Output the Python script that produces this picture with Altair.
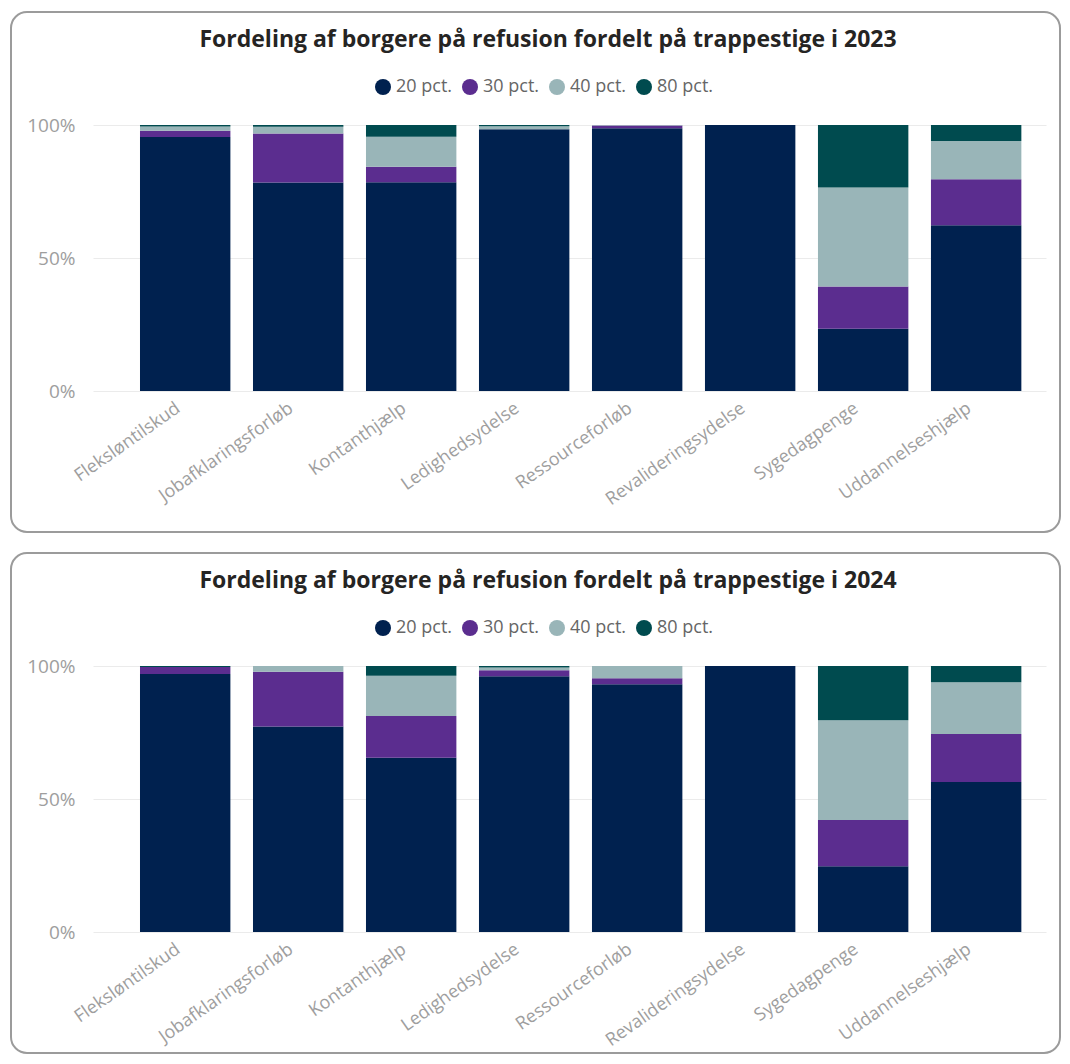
import altair as alt
import pandas as pd

categories = ["Fleksløntilskud", "Jobafklaringsforløb", "Kontanthjælp", "Ledighedsydelse",
              "Ressourceforløb", "Revalideringsydelse", "Sygedagpenge", "Uddannelseshjælp"]
levels = ["20 pct.", "30 pct.", "40 pct.", "80 pct."]
colors = ["#00214F", "#5B2D8F", "#99B5B8", "#004B4F"]

# shares (%) per category, 2023
p20_2023 = [95.9, 78.6, 78.6, 98.4, 98.8, 100.0, 23.4, 62.4]
p30_2023 = [2.3, 18.5, 5.8, 0.0, 1.0, 0.0, 15.9, 17.3]
p40_2023 = [1.6, 2.5, 11.3, 1.1, 0.2, 0.0, 37.2, 14.4]
p80_2023 = [0.6, 0.7, 4.4, 0.5, 0.0, 0.0, 23.5, 6.0]

# shares (%) per category, 2024
p20_2024 = [97.0, 77.3, 65.5, 96.1, 93.1, 100.0, 24.7, 56.4]
p30_2024 = [2.6, 20.5, 15.7, 2.3, 2.3, 0.0, 17.4, 18.0]
p40_2024 = [0.0, 2.2, 15.1, 1.0, 4.6, 0.0, 37.5, 19.5]
p80_2024 = [0.4, 0.0, 3.7, 0.6, 0.0, 0.0, 20.4, 6.1]

title_2023 = "Fordeling af borgere på refusion fordelt på trappestige i 2023"
title_2024 = "Fordeling af borgere på refusion fordelt på trappestige i 2024"

FONT = "Open Sans"
W, H = 953, 266


def make_df(series):
    rows = []
    for li, (lvl, vals) in enumerate(zip(levels, series)):
        for c, v in zip(categories, vals):
            rows.append({"kategori": c, "niveau": lvl, "orden": li, "andel": v})
    return pd.DataFrame(rows)


def panel(df, title, box_bottom):
    border = alt.Chart(pd.DataFrame({"d": [0]})).mark_rect(
        filled=False, stroke="#9B9B9B", strokeWidth=2, cornerRadius=16
    ).encode(x=alt.value(-82), x2=alt.value(967), y=alt.value(-113), y2=alt.value(box_bottom))

    ttl = alt.Chart(pd.DataFrame({"t": [title]})).mark_text(
        font=FONT, fontSize=23, fontWeight="bold", color="#252423",
        align="center", baseline="middle"
    ).encode(x=alt.value(455), y=alt.value(-85), text="t:N")

    bars = alt.Chart(df).mark_bar().encode(
        x=alt.X("kategori:N", sort=categories,
                scale=alt.Scale(paddingInner=0.2, paddingOuter=0.317, align=0.656),
                axis=alt.Axis(title=None, labelAngle=-35, labelColor="#9E9E9E", labelFont=FONT,
                              labelFontSize=18, domain=False, ticks=False, labelPadding=8,
                              labelOffset=-12, grid=False)),
        y=alt.Y("andel:Q", stack="normalize", scale=alt.Scale(domain=[0, 1]),
                axis=alt.Axis(title=None, values=[0, 0.5, 1], format=".0%", labelColor="#9E9E9E",
                              labelFont=FONT, labelFontSize=19, gridColor="#EBEBEB", domain=False,
                              ticks=False, labelPadding=18)),
        color=alt.Color("niveau:N", scale=alt.Scale(domain=levels, range=colors),
                        legend=alt.Legend(title=None, orient="none", legendX=281, legendY=-47,
                                          direction="horizontal", symbolType="circle", symbolSize=256,
                                          symbolOpacity=1, symbolStrokeWidth=0, labelFont=FONT,
                                          labelFontSize=18, labelColor="#666666", columnPadding=8,
                                          labelOffset=4)),
        order=alt.Order("orden:Q", sort="ascending"),
    )
    return alt.layer(border, ttl, bars).properties(width=W, height=H)


p1 = panel(make_df([p20_2023, p30_2023, p40_2023, p80_2023]), title_2023, 407)
p2 = panel(make_df([p20_2024, p30_2024, p40_2024, p80_2024]), title_2024, 387)

chart = alt.vconcat(p1, p2, spacing=19).resolve_scale(color="independent").resolve_legend(
    color="independent"
).properties(
    padding={"left": 2, "top": 3, "right": 0, "bottom": 0}, background="white"
).configure_view(strokeWidth=0)

chart.save("out.html", embed_options={"renderer": "svg", "actions": False})
